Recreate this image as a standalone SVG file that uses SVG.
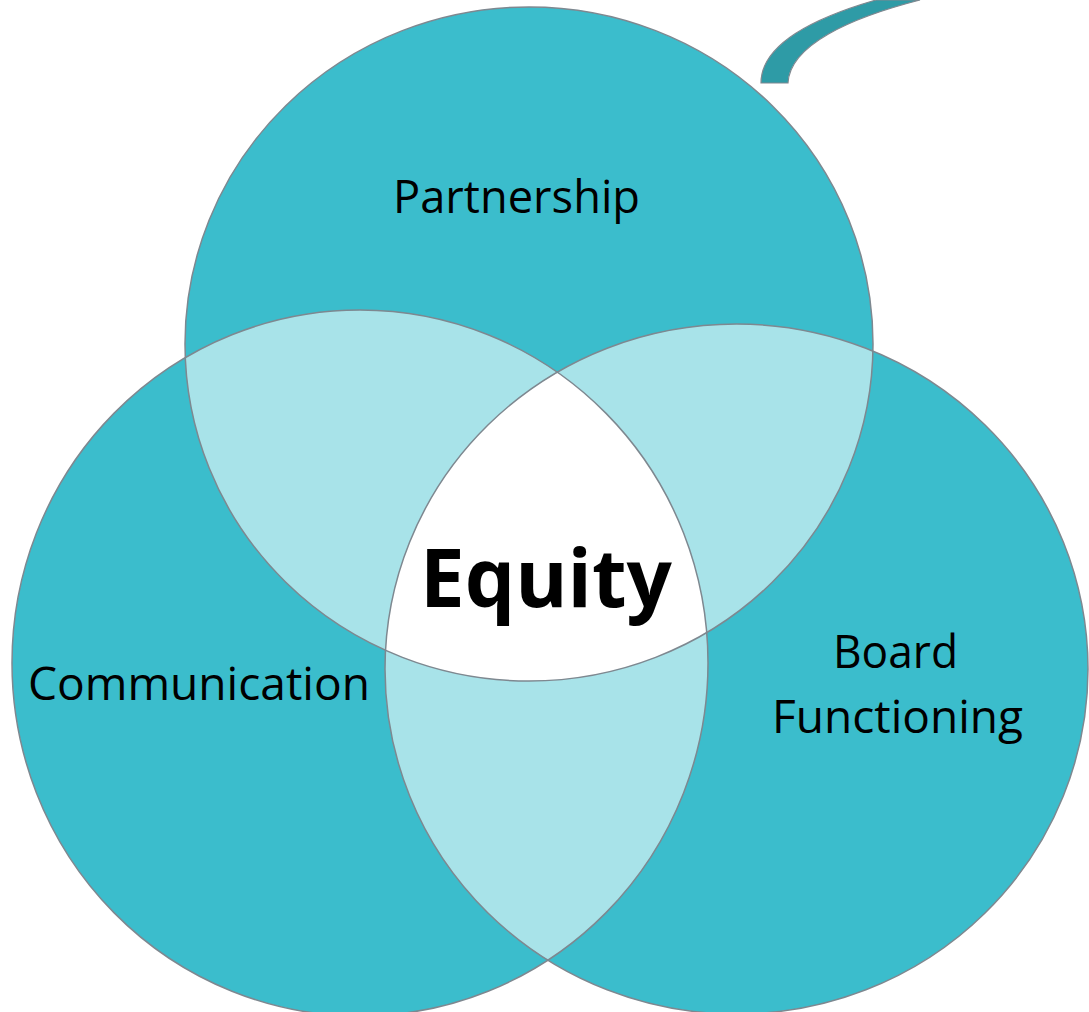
<svg xmlns="http://www.w3.org/2000/svg" width="1089" height="1012" viewBox="0 0 1089 1012">
  <style>
    .base { fill: #3BBDCC; }
    .pair { fill: #A8E3E9; }
    .core { fill: #FFFFFF; }
    .edge { fill: none; stroke: #7E8890; stroke-width: 1.5; }
    .lbl { font-family: "Open Sans", "Liberation Sans", sans-serif; font-size: 45px; fill: #000; text-anchor: middle; }
    .big { font-family: "Open Sans", "Liberation Sans", sans-serif; font-size: 80px; font-weight: bold; fill: #000; text-anchor: middle; }
  </style>
  <defs>
    <ellipse id="cTop" cx="529" cy="344" rx="344" ry="337"/>
    <ellipse id="cLeft" cx="360" cy="663" rx="348" ry="353"/>
    <ellipse id="cRight" cx="736.5" cy="669" rx="351.5" ry="345"/>
    <clipPath id="clipTop"><use href="#cTop"/></clipPath>
    <clipPath id="clipLeft"><use href="#cLeft"/></clipPath>
    <clipPath id="clipRight"><use href="#cRight"/></clipPath>
  </defs>
  <rect width="1089" height="1012" fill="#FFFFFF"/>

  <g id="arrow">
    <path d="M761,83 C761,50 800,22 876,0 L920,0 C850,18 790,45 788,83 Z" fill="#2E9BA6" stroke="#7E8890" stroke-width="1.2"/>
  </g>

  <g id="circle-partnership">
    <use href="#cTop" class="base"/>
  </g>
  <g id="circle-communication">
    <use href="#cLeft" class="base"/>
  </g>
  <g id="circle-board">
    <use href="#cRight" class="base"/>
  </g>

  <g id="overlaps">
    <use href="#cTop" class="pair" clip-path="url(#clipLeft)"/>
    <use href="#cTop" class="pair" clip-path="url(#clipRight)"/>
    <use href="#cLeft" class="pair" clip-path="url(#clipRight)"/>
    <g clip-path="url(#clipRight)">
      <use href="#cTop" class="core" clip-path="url(#clipLeft)"/>
    </g>
  </g>

  <g id="outlines">
    <use href="#cTop" class="edge"/>
    <use href="#cLeft" class="edge"/>
    <use href="#cRight" class="edge"/>
  </g>

  <g id="labels">
    <text class="lbl" x="516.5" y="213" textLength="247" lengthAdjust="spacingAndGlyphs">Partnership</text>
    <text class="lbl" x="199" y="700" textLength="342" lengthAdjust="spacingAndGlyphs">Communication</text>
    <text class="lbl" x="895.5" y="668" textLength="125" lengthAdjust="spacingAndGlyphs">Board</text>
    <text class="lbl" x="897.5" y="733" textLength="251" lengthAdjust="spacingAndGlyphs">Functioning</text>
    <text class="big" x="546" y="607" textLength="252" lengthAdjust="spacingAndGlyphs">Equity</text>
  </g>
</svg>
